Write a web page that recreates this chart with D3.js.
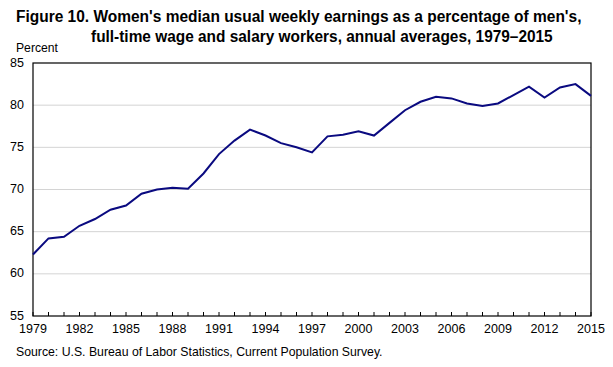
<!DOCTYPE html>
<html><head><meta charset="utf-8">
<script src="https://cdn.jsdelivr.net/npm/d3@7/dist/d3.min.js"></script>
<style>body{margin:0;background:#fff}svg{display:block}text{font-family:"Liberation Sans Narrow","Arial Narrow","Liberation Sans",sans-serif}</style>
</head><body><svg id="c" width="613" height="367"></svg>
<script>
const years = d3.range(1979, 2016);
const values = [62.3,64.2,64.4,65.7,66.5,67.6,68.1,69.5,70.0,70.2,70.1,71.9,74.2,75.8,77.1,76.4,75.5,75.0,74.4,76.3,76.5,76.9,76.4,77.9,79.4,80.4,81.0,80.8,80.2,79.9,80.2,81.2,82.2,80.9,82.1,82.5,81.1];
const yTicks = [55,60,65,70,75,80,85];
const xTickLabels = [1979,1982,1985,1988,1991,1994,1997,2000,2003,2006,2009,2012,2015];

const svg = d3.select("#c");
const L=33,R=591,T=63,B=316;
const x = d3.scaleLinear().domain([1979,2015]).range([L,R]);
const y = d3.scaleLinear().domain([55,85]).range([B,T]);

// text squeezed horizontally to a target width via transform
function fitText(str, x0, y0, size, weight, width){
  const t = svg.append("text").attr("x",0).attr("y",0).attr("font-size",size)
    .attr("font-weight",weight).text(str);
  const w = t.node().getComputedTextLength();
  const s = Math.min(1, width / w);
  t.attr("transform",`translate(${x0},${y0}) scale(${s},1)`);
  return t;
}

fitText("Figure 10. Women's median usual weekly earnings as a percentage of men's,",16,22,17,"bold",566);
fitText("full-time wage and salary workers, annual averages, 1979\u20132015",91,42,17,"bold",462);
fitText("Percent",16,52,12.5,"normal",42);

// gridlines
svg.append("g").selectAll("line").data(yTicks.filter(d=>d>55&&d<85)).join("line")
  .attr("x1",L).attr("x2",R).attr("y1",d=>y(d)).attr("y2",d=>y(d))
  .attr("stroke","#d4d4d4").attr("stroke-width",1);

// y labels
svg.append("g").selectAll("text").data(yTicks).join("text")
  .attr("x",24).attr("y",d=>y(d)+3.5).attr("text-anchor","end").attr("font-size",12.5).text(d=>d);

// x ticks inward
svg.append("g").selectAll("line").data(years).join("line")
  .attr("x1",d=>x(d)).attr("x2",d=>x(d)).attr("y1",B).attr("y2",B-4)
  .attr("stroke","#000").attr("stroke-width",1);

svg.append("g").selectAll("text").data(xTickLabels).join("text")
  .attr("x",d=>x(d)).attr("y",B+17).attr("text-anchor","middle").attr("font-size",12.5).text(d=>d);

// frame
svg.append("rect").attr("x",L).attr("y",T).attr("width",R-L).attr("height",B-T)
  .attr("fill","none").attr("stroke","#000").attr("stroke-width",1.2);

// line
svg.append("path").datum(values).attr("fill","none").attr("stroke","#0a0a80").attr("stroke-width",2)
  .attr("stroke-linejoin","miter")
  .attr("d",d3.line().x((d,i)=>x(years[i])).y(d=>y(d)));

fitText("Source:  U.S. Bureau of Labor Statistics, Current Population Survey.",16,356,12.5,"normal",367);
</script></body></html>
